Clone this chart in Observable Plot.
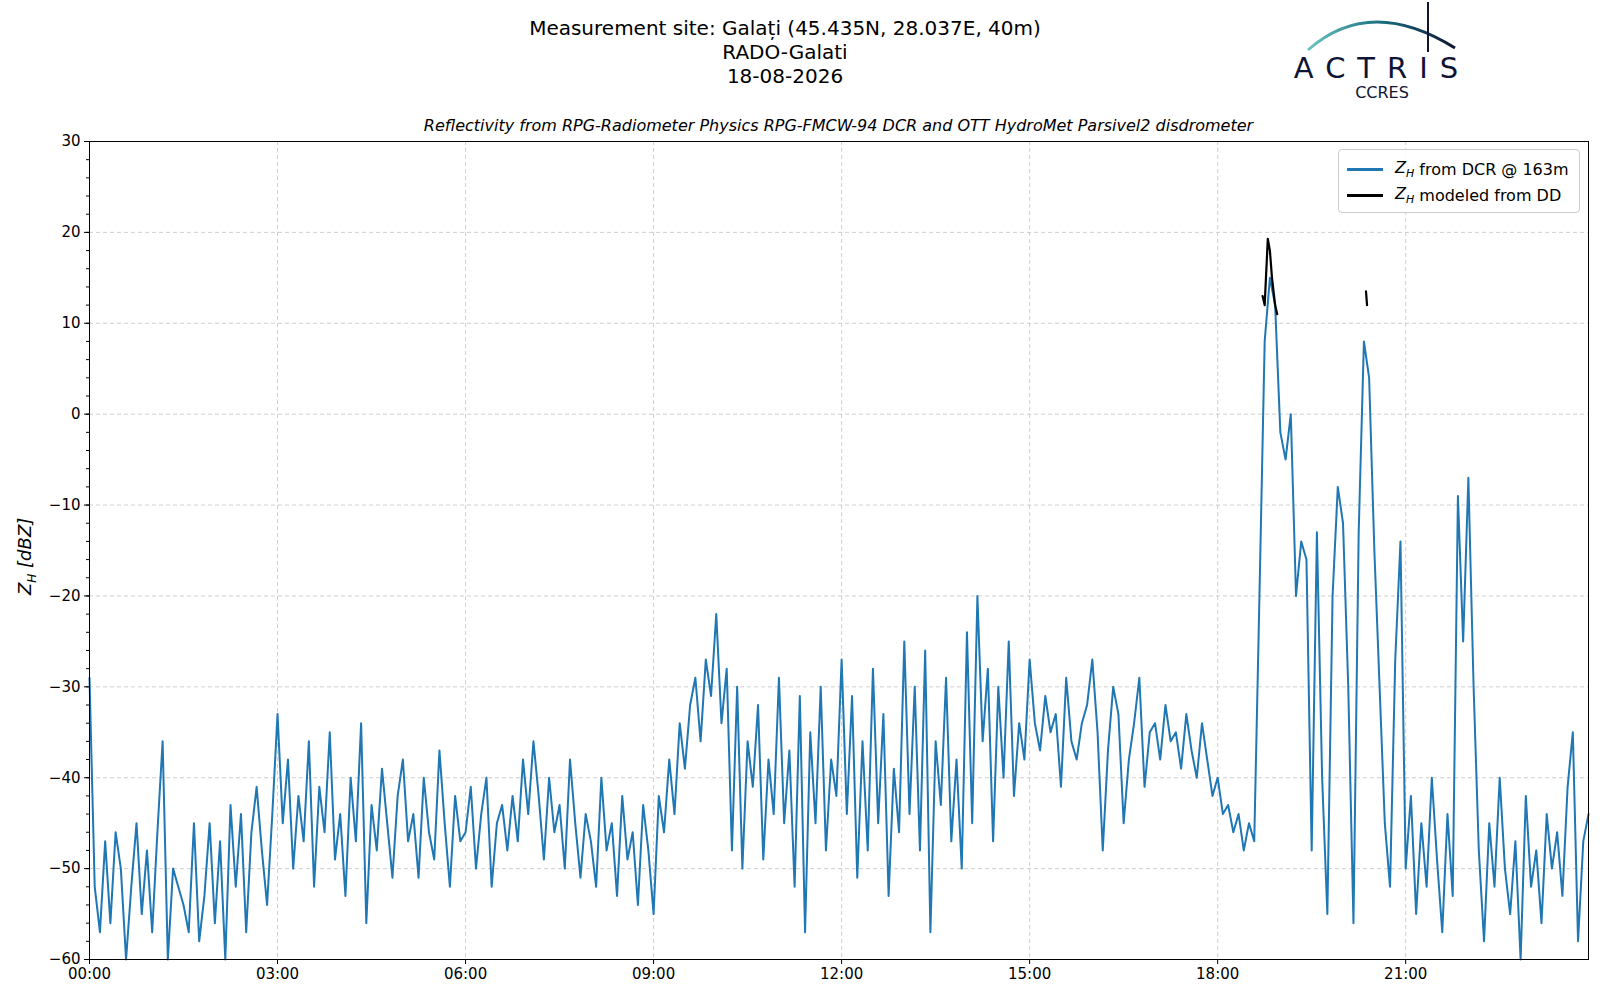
<!DOCTYPE html>
<html>
<head>
<meta charset="utf-8">
<script src="https://cdn.jsdelivr.net/npm/d3@7"></script>
<script src="https://cdn.jsdelivr.net/npm/@observablehq/plot@0.6"></script>
<style>
  body { margin: 0; background: #fff; font-family: "DejaVu Sans", sans-serif; }
  #wrap { position: relative; width: 1600px; height: 1000px; }
  .abs { position: absolute; }
  #title { left: 0; width: 1600px; top: 16px; text-align: center; font-size: 20px; line-height: 24px; color: #000; left: -15px; }
  #sub { left: 89px; width: 1499px; top: 116px; text-align: center; font-size: 16px; font-style: italic; }
  #ylab { left: 14px; top: 595px; transform: rotate(-90deg); transform-origin: left top; font-size: 18px; font-style: italic; white-space: nowrap; }
  #legend { left: 1338px; top: 149px; width: 240px; height: 62px; border: 1px solid #ccc; border-radius: 4px; background: rgba(255,255,255,0.85); font-size: 16px; }
  .li { position: absolute; left: 8px; display: flex; align-items: center; }
  .li span.sw { display: inline-block; width: 36px; height: 3px; margin-right: 12px; }
  #chart { left: 0; top: 120px; }
</style>
</head>
<body>
<div id="wrap">
  <div id="title" class="abs">Measurement site: Galați (45.435N, 28.037E, 40m)<br>RADO-Galati<br>18-08-2026</div>
  <svg class="abs" style="left:1290px;top:0px" width="180" height="105">
    <defs><linearGradient id="arc" x1="0" x2="1"><stop offset="0" stop-color="#6cc3c0"/><stop offset="0.5" stop-color="#1a6f80"/><stop offset="1" stop-color="#0e1433"/></linearGradient></defs>
    <path d="M 18 50 Q 80 -5 165 48" fill="none" stroke="url(#arc)" stroke-width="3"/>
    <line x1="138" y1="2" x2="138" y2="52" stroke="#0e1433" stroke-width="2"/>
    <text x="92" y="78" text-anchor="middle" font-size="29" letter-spacing="12" fill="#0e1433" font-family="DejaVu Sans">ACTRIS</text>
    <text x="92" y="98" text-anchor="middle" font-size="16" fill="#0e1433" font-family="DejaVu Sans">CCRES</text>
  </svg>
  <div id="sub" class="abs">Reflectivity from RPG-Radiometer Physics RPG-FMCW-94 DCR and OTT HydroMet Parsivel2 disdrometer</div>
  <div id="ylab" class="abs">Z<sub style="font-size:12px">H</sub> [dBZ]</div>
  <div id="chart" class="abs"></div>
  <div id="legend" class="abs">
    <div class="li" style="top:8px"><span class="sw" style="background:#1f77b4"></span><i>Z<sub style="font-size:11px">H</sub></i>&nbsp;from DCR @ 163m</div>
    <div class="li" style="top:34px"><span class="sw" style="background:#000"></span><i>Z<sub style="font-size:11px">H</sub></i>&nbsp;modeled from DD</div>
  </div>
</div>
<script>
// DCR reflectivity, 5-minute steps, one row per hour
const dcrHours = [
  [-29,-52,-57,-47,-56,-46,-50,-60,-52,-45,-55,-48],
  [-57,-46,-36,-60,-50,-52,-54,-57,-45,-58,-53,-45],
  [-56,-47,-60,-43,-52,-44,-57,-46,-41,-48,-54,-44],
  [-33,-45,-38,-50,-42,-47,-36,-52,-41,-46,-35,-49],
  [-44,-53,-40,-47,-34,-56,-43,-48,-39,-45,-51,-42],
  [-38,-47,-44,-51,-40,-46,-49,-37,-45,-52,-42,-47],
  [-46,-41,-50,-44,-40,-52,-45,-43,-48,-42,-47,-38],
  [-44,-36,-42,-49,-40,-46,-43,-50,-38,-45,-51,-44],
  [-47,-52,-40,-48,-45,-53,-42,-49,-46,-54,-43,-48],
  [-55,-42,-46,-38,-44,-34,-39,-32,-29,-36,-27,-31],
  [-22,-34,-28,-48,-30,-50,-36,-41,-32,-49,-38,-44],
  [-29,-45,-37,-52,-31,-57,-35,-45,-30,-48,-38,-42],
  [-27,-44,-31,-51,-36,-48,-28,-45,-33,-53,-39,-46],
  [-25,-44,-30,-48,-26,-57,-36,-43,-29,-47,-38,-50],
  [-24,-45,-20,-36,-28,-47,-30,-40,-25,-42,-34,-38],
  [-27,-34,-37,-31,-35,-33,-41,-29,-36,-38,-34,-32],
  [-27,-35,-48,-37,-30,-33,-45,-38,-34,-29,-41,-35],
  [-34,-38,-32,-36,-35,-39,-33,-37,-40,-34,-38,-42],
  [-40,-44,-43,-46,-44,-48,-45,-47,-20,8,15,12],
  [-2,-5,0,-20,-14,-16,-48,-13,-40,-55,-20,-8],
  [-12,-30,-56,-13,8,4,-15,-30,-45,-52,-27,-14],
  [-50,-42,-55,-45,-52,-40,-49,-57,-44,-53,-9,-25],
  [-7,-30,-48,-58,-45,-52,-40,-50,-55,-47,-60,-42],
  [-52,-48,-56,-44,-50,-46,-53,-41,-35,-58,-47,-44]
];
// disdrometer-modeled reflectivity (minutes of day, dBZ); null = gap
const ddMinutes = [1123, 1125, 1128, 1130, 1132, 1135, 1137, 1138, 1222, 1223];
const ddValues  = [13, 12, 19.3, 18, 15, 12, 11, null, 13.5, 12];
const yMajor = d3.range(-60, 31, 10);
const yMinor = d3.range(-60, 31, 2);

const day = Date.UTC(2026, 7, 18);
const toDate = m => new Date(day + m * 60000);
const dcr = dcrHours.flat().map((v, i) => ({t: toDate(i * 5), z: v}));
const dd = ddMinutes.map((m, i) => ({t: toDate(m), z: ddValues[i]}));
const xTicks = d3.range(0, 24, 3).map(h => toDate(h * 60));

const plot = Plot.plot({
  width: 1600,
  height: 880,
  marginLeft: 89,
  marginRight: 12,
  marginTop: 21,
  marginBottom: 41,
  style: {fontFamily: "DejaVu Sans, sans-serif", fontSize: "15px", color: "#000"},
  x: {type: "utc", domain: [toDate(0), toDate(1435)]},
  y: {domain: [-60, 30]},
  marks: [
    Plot.gridX(xTicks, {stroke: "#b0b0b0", strokeOpacity: 0.6, strokeDasharray: "4,3"}),
    Plot.gridY(yMajor, {stroke: "#b0b0b0", strokeOpacity: 0.6, strokeDasharray: "4,3"}),
    Plot.axisX(xTicks, {tickFormat: d3.utcFormat("%H:%M"), label: null, tickSize: 5}),
    Plot.axisY(yMajor, {label: null, tickSize: 5}),
    Plot.axisY(yMinor, {label: null, tickSize: 3, tickFormat: () => ""}),
    Plot.lineY(dcr, {x: "t", y: "z", stroke: "#1f77b4", strokeWidth: 2}),
    Plot.lineY(dd, {x: "t", y: "z", stroke: "#000", strokeWidth: 2.2, defined: d => d.z != null}),
    Plot.frame({stroke: "#000"})
  ]
});
document.getElementById("chart").append(plot);
</script>
</body>
</html>
